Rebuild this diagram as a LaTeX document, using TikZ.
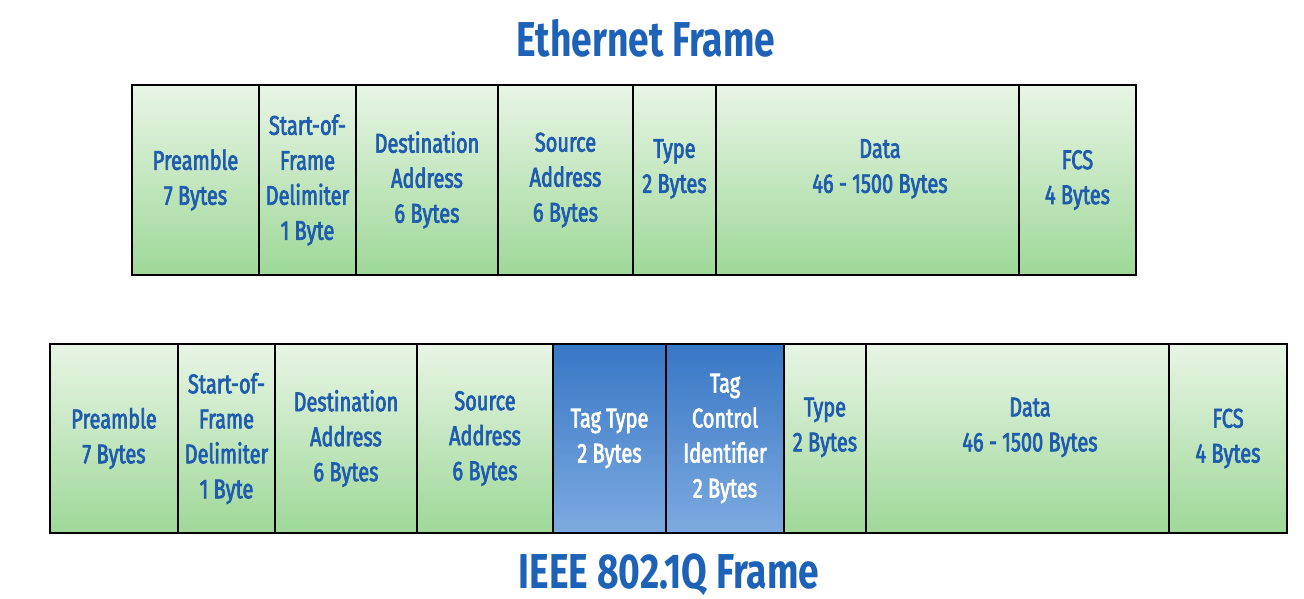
\documentclass[tikz,border=0pt]{standalone}
\usepackage{fontspec}
\setmainfont{Fira Sans}[FakeStretch=0.78]
\newfontfamily\cellfont{Fira Sans}[FakeStretch=0.74, FakeBold=2.5]
\newfontfamily\titlefont{Fira Sans}[FakeStretch=0.76]
\definecolor{txtblue}{HTML}{1F5CAD}
\definecolor{titleblue}{HTML}{1E62B8}
\definecolor{greentop}{HTML}{E8F5E5}
\definecolor{greenbot}{HTML}{9ED898}
\definecolor{bluetop}{HTML}{3877C5}
\definecolor{bluebot}{HTML}{7DAAE0}
\tikzset{
  field/.style={draw=black, line width=2pt, inner sep=0pt, outer sep=0pt,
    anchor=north west, align=center, text=txtblue,
    font=\cellfont\fontsize{27}{35}\selectfont,
    top color=greentop, bottom color=greenbot},
  tagfield/.style={field, text=white, top color=bluetop, bottom color=bluebot},
  heading/.style={anchor=base, inner sep=0pt, text=titleblue,
    font=\titlefont\bfseries\fontsize{49}{55}\selectfont}
}
% two text lines set a little above the middle of their field
\newcommand{\raisedpair}[2]{#1\\#2\\[-7pt]\mbox{}}
% the data field's text sits slightly right of centre
\newcommand{\datatext}{\raisedpair{\hspace*{25pt}Data}{\hspace*{25pt}46 - 1500 Bytes}}
\begin{document}
\begin{tikzpicture}[x=1pt,y=1pt]
\useasboundingbox (0,0) rectangle (1304,-599);
% Ethernet frame
\node[heading] (t1) at (646,-57) {Ethernet Frame};
\node[field, minimum width=127pt, minimum height=190pt] (e1) at (132,-85) {Preamble\\7 Bytes};
\node[field, minimum width=97pt, minimum height=190pt] (e2) at (259,-85) {Start-of-\\Frame\\Delimiter\\1 Byte};
\node[field, minimum width=142pt, minimum height=190pt] (e3) at (356,-85) {Destination\\Address\\6 Bytes};
\node[field, minimum width=135pt, minimum height=190pt] (e4) at (498,-85) {Source\\Address\\6 Bytes};
\node[field, minimum width=83pt, minimum height=190pt] (e5) at (633,-85) {\raisedpair{Type}{2 Bytes}};
\node[field, minimum width=303pt, minimum height=190pt] (e6) at (716,-85) {\datatext};
\node[field, minimum width=117pt, minimum height=190pt] (e7) at (1019,-85) {FCS\\4 Bytes};
% 802.1Q frame
\node[field, minimum width=128pt, minimum height=189pt] (q1) at (50,-344) {Preamble\\7 Bytes};
\node[field, minimum width=97pt, minimum height=189pt] (q2) at (178,-344) {Start-of-\\Frame\\Delimiter\\1 Byte};
\node[field, minimum width=142pt, minimum height=189pt] (q3) at (275,-344) {Destination\\Address\\6 Bytes};
\node[field, minimum width=136pt, minimum height=189pt] (q4) at (417,-344) {Source\\Address\\6 Bytes};
\node[tagfield, minimum width=113pt, minimum height=189pt] (q5) at (553,-344) {Tag Type\\2 Bytes};
\node[tagfield, minimum width=118pt, minimum height=189pt] (q6) at (666,-344) {Tag\\Control\\Identifier\\2 Bytes};
\node[field, minimum width=82pt, minimum height=189pt] (q7) at (784,-344) {\raisedpair{Type}{2 Bytes}};
\node[field, minimum width=303pt, minimum height=189pt] (q8) at (866,-344) {\datatext};
\node[field, minimum width=118pt, minimum height=189pt] (q9) at (1169,-344) {FCS\\4 Bytes};
\node[heading] (t2) at (669,-588) {IEEE 802.1Q Frame};
\end{tikzpicture}
\end{document}
